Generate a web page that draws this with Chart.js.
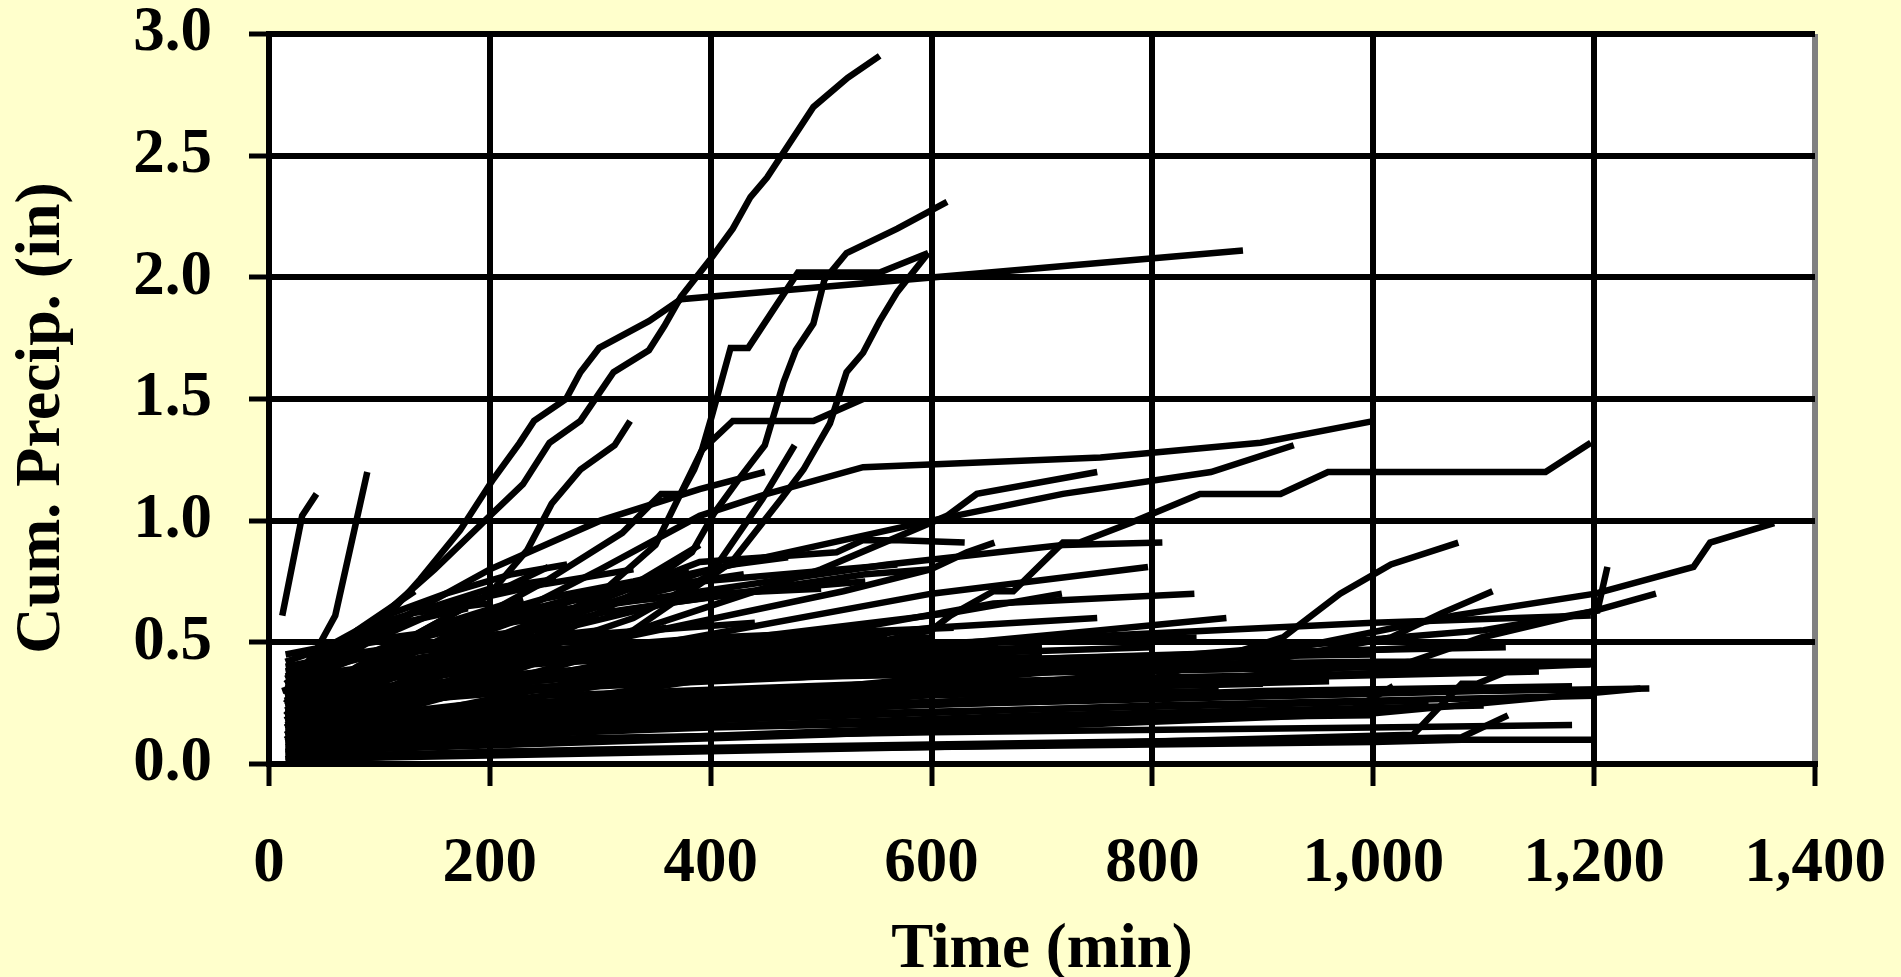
<!DOCTYPE html>
<html>
<head>
<meta charset="utf-8">
<script src="https://cdn.jsdelivr.net/npm/chart.js@4.4.0/dist/chart.umd.min.js"></script>
<style>
    html, body { margin: 0; padding: 0; background: #ffffcc; }
    #caja { width: 1901px; height: 977px; position: relative; }
</style>
</head>
<body>
<div id="caja"><canvas id="lluvia"></canvas></div>
<script>
//Ejes
const xTicks = [0, 200, 400, 600, 800, 1000, 1200, 1400];
const yTicks = [0, 0.5, 1.0, 1.5, 2.0, 2.5, 3.0];
const xTitle = 'Time (min)';
const yTitle = 'Cum. Precip. (in)';

//Tormentas (tiempo en min, lluvia acumulada en pulgadas)
const tallStorms = [
    [[20,0.25],[60,0.45],[94,0.54],[137,0.76],[173,0.96],[203,1.17],[227,1.32],[240,1.41],[269,1.50],[282,1.61],[299,1.71],[344,1.82],[373,1.91],[882,2.11]],
    [[20,0.20],[60,0.40],[100,0.60],[150,0.80],[200,1.02],[230,1.15],[254,1.32],[282,1.41],[312,1.61],[344,1.70],[358,1.80],[373,1.92],[399,2.07],[420,2.20],[436,2.33],[451,2.41],[493,2.70],[524,2.82],[553,2.91]],
    [[20,0.10],[150,0.30],[250,0.50],[330,0.70],[383,0.87],[403,1.03],[427,1.18],[449,1.31],[466,1.57],[477,1.70],[493,1.81],[503,1.99],[523,2.10],[569,2.20],[614,2.31]],
    [[20,0.15],[200,0.35],[330,0.55],[419,0.83],[464,1.09],[484,1.21],[508,1.40],[523,1.61],[538,1.69],[553,1.82],[569,1.94],[597,2.10]],
    [[20,0.20],[150,0.50],[250,0.75],[320,0.95],[355,1.11],[373,1.11],[385,1.21],[392,1.29],[401,1.43],[418,1.71],[434,1.71],[479,2.02],[553,2.02],[597,2.10]],
    [[20,0.10],[200,0.45],[300,0.70],[350,0.90],[392,1.29],[420,1.41],[493,1.41],[538,1.50]],
    [[20,0.20],[120,0.50],[200,0.70],[234,0.88],[256,1.07],[282,1.21],[313,1.31],[327,1.41]],
    [[20,0.12],[200,0.40],[330,0.60],[400,0.78],[447,1.09],[476,1.31]],
    [[20,0.30],[100,0.55],[200,0.80],[300,1.00],[390,1.13],[449,1.20]]
];

const midStorms = [
    [[20,0.15],[150,0.45],[300,0.80],[390,1.02],[451,1.11],[538,1.22],[753,1.26],[898,1.32],[1001,1.41]],
    [[20,0.20],[200,0.50],[400,0.80],[600,1.00],[719,1.11],[853,1.20],[928,1.31]],
    [[20,0.10],[300,0.50],[500,0.80],[614,1.02],[641,1.11],[750,1.20]],
    [[20,0.10],[400,0.35],[600,0.55],[617,0.61],[656,0.71],[674,0.71],[719,0.91],[734,0.91],[780,0.99],[843,1.11],[916,1.11],[959,1.20],[1156,1.20],[1197,1.32]],
    [[20,0.20],[200,0.50],[390,0.83],[514,0.87],[538,0.92],[571,0.92],[630,0.91]],
    [[20,0.15],[300,0.50],[520,0.71],[599,0.80],[632,0.87],[657,0.91]],
    [[20,0.20],[250,0.60],[390,0.75],[569,0.82]],
    [[20,0.15],[400,0.50],[617,0.62],[718,0.70]],
    [[20,0.10],[400,0.45],[656,0.66],[838,0.70]],
    [[20,0.15],[300,0.40],[600,0.56],[750,0.60]],
    [[20,0.25],[300,0.65],[560,0.82],[719,0.90],[809,0.91]],
    [[20,0.10],[300,0.45],[600,0.70],[796,0.81]],
    [[20,0.10],[400,0.40],[753,0.55],[867,0.60]],
    [[12,0.61],[30,1.02],[43,1.11]],
    [[12,0.30],[25,0.32],[60,0.61],[89,1.20]],
    [[20,0.30],[80,0.55],[132,0.71]],
    [[20,0.25],[100,0.45],[180,0.65],[253,0.81]],
    [[15,0.20],[70,0.45],[130,0.62],[200,0.72],[260,0.76]],
    [[15,0.28],[90,0.50],[170,0.66],[250,0.74],[330,0.80]],
    [[15,0.15],[110,0.42],[210,0.60],[290,0.70],[370,0.74],[430,0.78]],
    [[15,0.33],[60,0.50],[120,0.58],[180,0.64]],
    [[15,0.12],[150,0.40],[260,0.55],[360,0.66],[460,0.72],[540,0.75]],
    [[15,0.24],[140,0.52],[240,0.64],[320,0.71],[390,0.90]],
    [[15,0.18],[180,0.48],[300,0.62],[420,0.70],[540,0.78],[600,0.80]],
    [[15,0.26],[60,0.40],[160,0.58],[230,0.68]]
];

const longStorms = [
    [[20,0.05],[500,0.25],[800,0.35],[918,0.52],[970,0.70],[1016,0.82],[1077,0.91]],
    [[20,0.10],[600,0.30],[900,0.42],[1016,0.52],[1062,0.62],[1108,0.71]],
    [[20,0.10],[500,0.30],[900,0.45],[1074,0.61],[1201,0.70],[1290,0.81],[1305,0.91],[1363,0.99]],
    [[20,0.05],[600,0.25],[1034,0.42],[1098,0.52],[1201,0.63],[1256,0.70]],
    [[20,0.10],[700,0.40],[1100,0.55],[1203,0.63],[1212,0.81]],
    [[20,0.20],[400,0.45],[1000,0.58],[1197,0.61]],
    [[20,0.05],[500,0.12],[1003,0.21],[1242,0.31]],
    [[20,0.02],[600,0.07],[1080,0.11],[1122,0.20]],
    [[20,0.03],[700,0.08],[1036,0.12],[1080,0.33],[1094,0.33],[1137,0.41]],
    [[20,0.10],[600,0.30],[1196,0.41]],
    [[20,0.05],[600,0.15],[976,0.21],[1018,0.32]]
];

const lowStorms = [
    [[15,0.25],[50,0.45],[100,0.60],[160,0.70],[220,0.78],[270,0.82]],
    [[15,0.18],[80,0.40],[150,0.55],[250,0.68],[330,0.75],[380,0.80]],
    [[15,0.30],[40,0.45],[80,0.55],[130,0.62],[200,0.66]],
    [[15,0.10],[100,0.35],[200,0.55],[280,0.68],[350,0.75],[420,0.82],[470,0.85]],
    [[15,0.22],[120,0.45],[220,0.60],[300,0.66],[400,0.70],[500,0.72]],
    [[15,0.10],[100,0.18],[300,0.25],[600,0.30],[900,0.33]],
    [[15,0.20],[80,0.30],[250,0.38],[500,0.42],[700,0.44]],
    [[15,0.05],[150,0.15],[400,0.22],[800,0.27],[1000,0.29]],
    [[15,0.30],[60,0.38],[200,0.46],[400,0.50],[560,0.53]],
    [[15,0.15],[120,0.26],[350,0.34],[650,0.38],[1050,0.40]],
    [[15,0.25],[100,0.35],[300,0.44],[480,0.49]],
    [[15,0.08],[200,0.18],[500,0.24],[900,0.30],[1180,0.32]],
    [[15,0.12],[60,0.22],[180,0.30],[420,0.36],[720,0.40]],
    [[15,0.35],[50,0.42],[150,0.48],[320,0.53]],
    [[15,0.18],[200,0.30],[450,0.38],[850,0.44],[1000,0.45]],
    [[15,0.02],[100,0.10],[400,0.15],[700,0.18],[950,0.20]],
    [[15,0.22],[150,0.33],[380,0.40],[600,0.45],[800,0.48]],
    [[15,0.40],[70,0.45],[180,0.52],[260,0.56]],
    [[15,0.10],[90,0.20],[250,0.28],[550,0.33],[850,0.36],[1000,0.37]],
    [[15,0.28],[120,0.38],[340,0.46],[620,0.50]],
    [[15,0.06],[300,0.14],[700,0.20],[1100,0.24]],
    [[15,0.16],[80,0.25],[300,0.33],[560,0.37],[760,0.39]],
    [[15,0.32],[140,0.42],[350,0.49],[520,0.52]],
    [[15,0.13],[180,0.24],[520,0.31],[950,0.36],[1150,0.38]],
    [[15,0.45],[60,0.49],[160,0.55],[220,0.60]],
    [[15,0.04],[200,0.10],[600,0.13],[1000,0.15],[1180,0.16]],
    [[15,0.20],[60,0.28],[200,0.36],[400,0.42],[640,0.47],[700,0.48]],
    [[15,0.26],[100,0.36],[220,0.42],[400,0.47]],
    [[15,0.09],[60,0.15],[200,0.22],[450,0.28],[780,0.32],[960,0.34]],
    [[15,0.38],[100,0.46],[250,0.52],[440,0.58]],
    [[15,0.14],[140,0.28],[380,0.36],[700,0.42],[900,0.44]],
    [[15,0.24],[200,0.40],[500,0.48],[840,0.52]],
    [[15,0.11],[300,0.20],[650,0.25],[1100,0.30],[1250,0.31]],
    [[15,0.17],[90,0.26],[260,0.35],[600,0.40],[1000,0.42],[1200,0.42]],
    [[15,0.03],[300,0.06],[600,0.08],[900,0.10],[1200,0.10]],
    [[15,0.29],[60,0.36],[140,0.44],[300,0.52],[360,0.56]],
    [[15,0.07],[100,0.13],[350,0.19],[750,0.23],[1050,0.26]],
    [[15,0.19],[120,0.30],[300,0.40],[520,0.46],[660,0.49]],
    [[15,0.36],[80,0.43],[200,0.50],[300,0.55]],
    [[15,0.01],[200,0.05],[600,0.07],[1000,0.09],[1080,0.10]],
    [[15,0.21],[160,0.32],[450,0.40],[900,0.46],[1120,0.48]],
    [[15,0.12],[250,0.22],[560,0.28],[860,0.30]],
    [[15,0.33],[120,0.40],[330,0.47],[560,0.51],[600,0.52]],
    [[15,0.05],[150,0.12],[500,0.17],[800,0.19],[1000,0.20]],
    [[15,0.27],[80,0.34],[240,0.42],[420,0.46]],
    [[15,0.15],[60,0.22],[200,0.30],[500,0.36],[1000,0.40],[1200,0.41]],
    [[15,0.42],[40,0.46],[120,0.52],[200,0.57],[280,0.62]],
    [[15,0.23],[300,0.37],[600,0.42],[1000,0.47],[1100,0.49]],
    [[15,0.09],[400,0.18],[800,0.24],[1200,0.28]],
    [[15,0.31],[200,0.45],[400,0.52],[620,0.56]]
];

const storms = [...lowStorms, ...longStorms, ...midStorms, ...tallStorms];

const fuente = '"Liberation Serif", "Times New Roman", serif';

//Fondo blanco del area y titulos de los ejes
const marco = {
    id: 'marco',
    beforeDraw(chart) {
        const a = chart.chartArea;
        const ctx = chart.ctx;
        ctx.save();
        ctx.fillStyle = '#ffffff';
        ctx.fillRect(a.left, a.top, a.right - a.left, a.bottom - a.top);
        ctx.restore();
    },
    afterDraw(chart) {
        const a = chart.chartArea;
        const ctx = chart.ctx;
        ctx.save();
        ctx.fillStyle = '#000000';
        ctx.font = 'bold 63px ' + fuente;
        ctx.textAlign = 'center';
        ctx.textBaseline = 'middle';
        ctx.fillText(xTitle, (a.left + a.right) / 2, a.bottom + 187);
        ctx.translate(42, (a.top + a.bottom) / 2 + 19);
        ctx.rotate(-Math.PI / 2);
        ctx.font = 'bold 64px ' + fuente;
        ctx.fillText(yTitle, 0, 0);
        ctx.restore();
    }
};

//Sin margen extra por las etiquetas
function sinRelleno(s) {
    s.paddingLeft = 0;
    s.paddingRight = 0;
    s.paddingTop = 0;
    s.paddingBottom = 0;
}

const lluvia = document.getElementById('lluvia');

if (lluvia) {
    new Chart(lluvia, {
        type: 'scatter',
        data: {
            datasets: storms.map(s => ({
                data: s.map(p => ({ x: p[0], y: p[1] })),
                showLine: true,
                borderColor: '#000000',
                borderWidth: 6.5,
                borderJoinStyle: 'miter',
                pointRadius: 0,
                tension: 0
            }))
        },
        options: {
            responsive: true,
            maintainAspectRatio: false,
            animation: false,
            layout: {
                padding: { top: 34, right: 86, left: 0, bottom: 0 }
            },
            plugins: {
                legend: { display: false },
                tooltip: { enabled: false }
            },
            scales: {
                x: {
                    type: 'linear',
                    min: 0,
                    max: 1400,
                    afterBuildTicks: s => { s.ticks = xTicks.map(v => ({ value: v })); },
                    afterFit: s => { s.height = 213; sinRelleno(s); },
                    ticks: {
                        color: '#000000',
                        padding: 41,
                        maxRotation: 0,
                        font: { family: fuente, size: 63, weight: 'bold' },
                        callback: v => v.toLocaleString('en-US')
                    },
                    grid: {
                        color: c => (c.tick && c.tick.value === 1400) ? '#808080' : '#000000',
                        lineWidth: 6,
                        tickLength: 22,
                        tickColor: '#000000',
                        tickWidth: 5
                    },
                    border: { color: '#000000', width: 6 }
                },
                y: {
                    type: 'linear',
                    min: 0,
                    max: 3,
                    afterBuildTicks: s => { s.ticks = yTicks.map(v => ({ value: v })); },
                    afterFit: s => { s.width = 269; sinRelleno(s); },
                    ticks: {
                        color: '#000000',
                        padding: 37,
                        font: { family: fuente, size: 63, weight: 'bold' },
                        callback: v => v.toFixed(1)
                    },
                    grid: {
                        color: '#000000',
                        lineWidth: 6,
                        tickLength: 20,
                        tickColor: '#000000',
                        tickWidth: 5
                    },
                    border: { color: '#000000', width: 6 }
                }
            }
        },
        plugins: [marco]
    });
}
</script>
</body>
</html>
